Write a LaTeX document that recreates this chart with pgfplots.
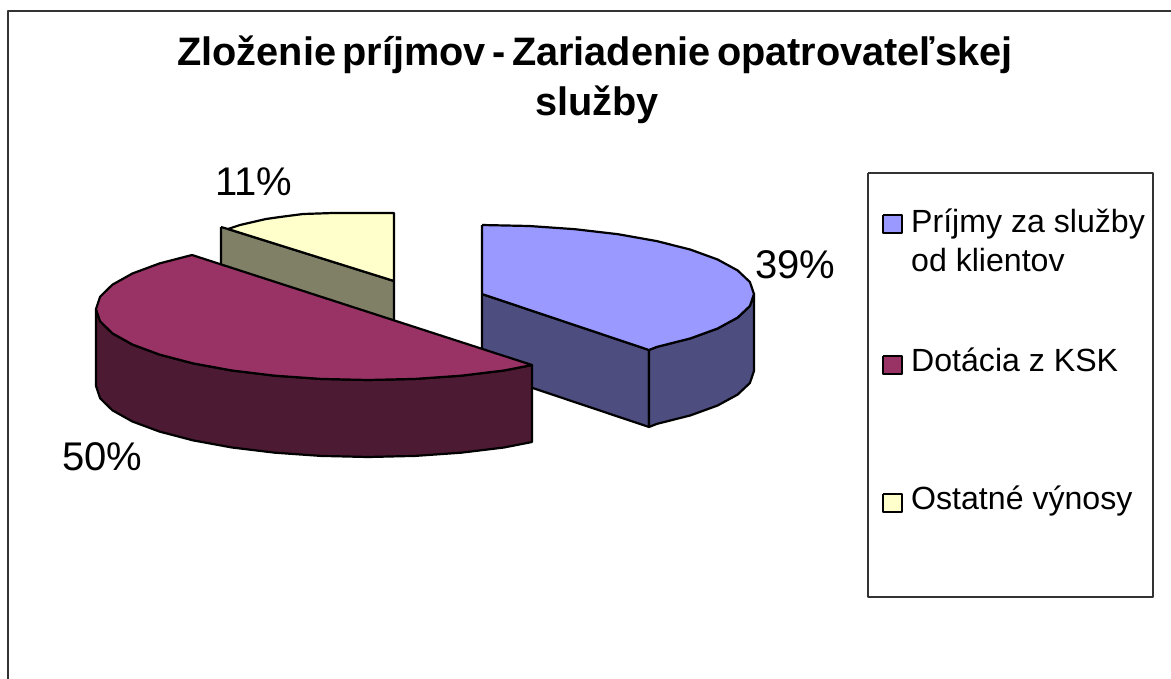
\documentclass[border=0pt]{standalone}
\usepackage{pgfplots}
\pgfplotsset{compat=1.18}
\usepackage{fontspec}
\setmainfont{Liberation Sans}
\newcommand{\fs}[1]{\fontsize{#1bp}{#1bp}\selectfont}
\begin{document}
\begin{tikzpicture}
\path[use as bounding box] (0,0) rectangle (1171bp,679bp);
\begin{axis}[
  at={(0,0)}, anchor=south west,
  scale only axis, width=1171bp, height=679bp,
  xmin=0, xmax=1171, ymin=0, ymax=679, y dir=reverse,
  hide axis, clip=true,
  every axis plot/.append style={line width=2.2bp, line join=round, forget plot}]
% frame
\addplot[draw=black!80, line width=1.3bp] coordinates {(8,679) (8,11) (1171,11)};
% yellow slice
\addplot[draw=black, fill={rgb,255:red,128;green,128;blue,102}] coordinates {(221,227) (228,229) (394,281) (394,323) (221,267) (221,227)};
\addplot[draw=black, fill={rgb,255:red,255;green,255;blue,204}] coordinates {(228,229) (240,225) (253,222) (266,219) (280,217) (303,214) (318,213.5) (333,213) (394,213) (394,281) (228,229)};
% blue slice
\addplot[draw=black, fill={rgb,255:red,77;green,77;blue,128}] coordinates {(482,294) (649,350) (649,427) (482,371) (482,294)};
\addplot[draw=black, fill={rgb,255:red,77;green,77;blue,128}] coordinates {(649,350) (656.8,346.9) (690.4,338.4) (717.6,328.5) (737.6,317.6) (749.9,306) (754,294) (754,371) (749.9,383) (737.6,394.6) (717.6,405.5) (690.4,415.4) (656.8,423.9) (649,427) (649,350)};
\addplot[draw=black, fill={rgb,255:red,153;green,153;blue,255}] coordinates {(482,225) (529.2,226) (575,229.2) (618,234.2) (656.8,241.1) (690.4,249.6) (717.6,259.5) (737.6,270.4) (749.9,282) (754,294) (749.9,306) (737.6,317.6) (717.6,328.5) (690.4,338.4) (656.8,346.9) (649,350) (482,294) (482,225)};
% maroon slice
\addplot[draw=black, fill={rgb,255:red,77;green,26;blue,51}] coordinates {(96,309) (100.1,321.3) (112.4,333.3) (132.4,344.5) (159.6,354.6) (193.2,363.4) (232,370.5) (275,375.7) (320.8,378.9) (368,380) (415.2,378.9) (461,375.7) (504,370.5) (532,365) (532,442) (504,447.5) (461,452.7) (415.2,455.9) (368,457) (320.8,455.9) (275,452.7) (232,447.5) (193.2,440.4) (159.6,431.6) (132.4,421.5) (112.4,410.3) (100.1,398.3) (96,386) (96,309)};
\addplot[draw=black, fill={rgb,255:red,153;green,51;blue,102}] coordinates {(192,255) (159.6,263.4) (132.4,273.5) (112.4,284.7) (100.1,296.7) (96,309) (100.1,321.3) (112.4,333.3) (132.4,344.5) (159.6,354.6) (193.2,363.4) (232,370.5) (275,375.7) (320.8,378.9) (368,380) (415.2,378.9) (461,375.7) (504,370.5) (532,365) (192,255)};
% legend
\addplot[draw=black!80, line width=1.3bp, fill=white] coordinates {(868,173) (1153,173) (1153,597) (868,597) (868,173)};
\addplot[draw=black, fill={rgb,255:red,153;green,153;blue,255}] coordinates {(883,215) (902,215) (902,233) (883,233) (883,215)};
\addplot[draw=black, fill={rgb,255:red,153;green,51;blue,102}] coordinates {(883,356) (902,356) (902,374) (883,374) (883,356)};
\addplot[draw=black, fill={rgb,255:red,255;green,255;blue,204}] coordinates {(883,494) (902,494) (902,512) (883,512) (883,494)};
\node[anchor=base west, inner sep=0pt] at (axis cs:911,232) {\fs{32.1}Príjmy za služby};
\node[anchor=base west, inner sep=0pt] at (axis cs:911,271) {\fs{32.1}od klientov};
\node[anchor=base west, inner sep=0pt] at (axis cs:911,371) {\fs{32.1}Dotácia z KSK};
\node[anchor=base west, inner sep=0pt] at (axis cs:911,509) {\fs{32.1}Ostatné výnosy};
% data labels
\node[anchor=base west, inner sep=0pt] at (axis cs:755,278) {\fs{40}39\%};
\node[anchor=base west, inner sep=0pt] at (axis cs:62,470) {\fs{40}50\%};
\node[anchor=base west, inner sep=0pt] at (axis cs:215,195) {\fs{40}11\%};
% title
\node[anchor=base, inner sep=0pt] at (axis cs:595,66) {\fs{39.7}\bfseries\spaceskip=6.4bp Zloženie príjmov - Zariadenie opatrovateľskej};
\node[anchor=base, inner sep=0pt] at (axis cs:597,115) {\fs{39.7}\bfseries služby};
\end{axis}
\end{tikzpicture}
\end{document}
